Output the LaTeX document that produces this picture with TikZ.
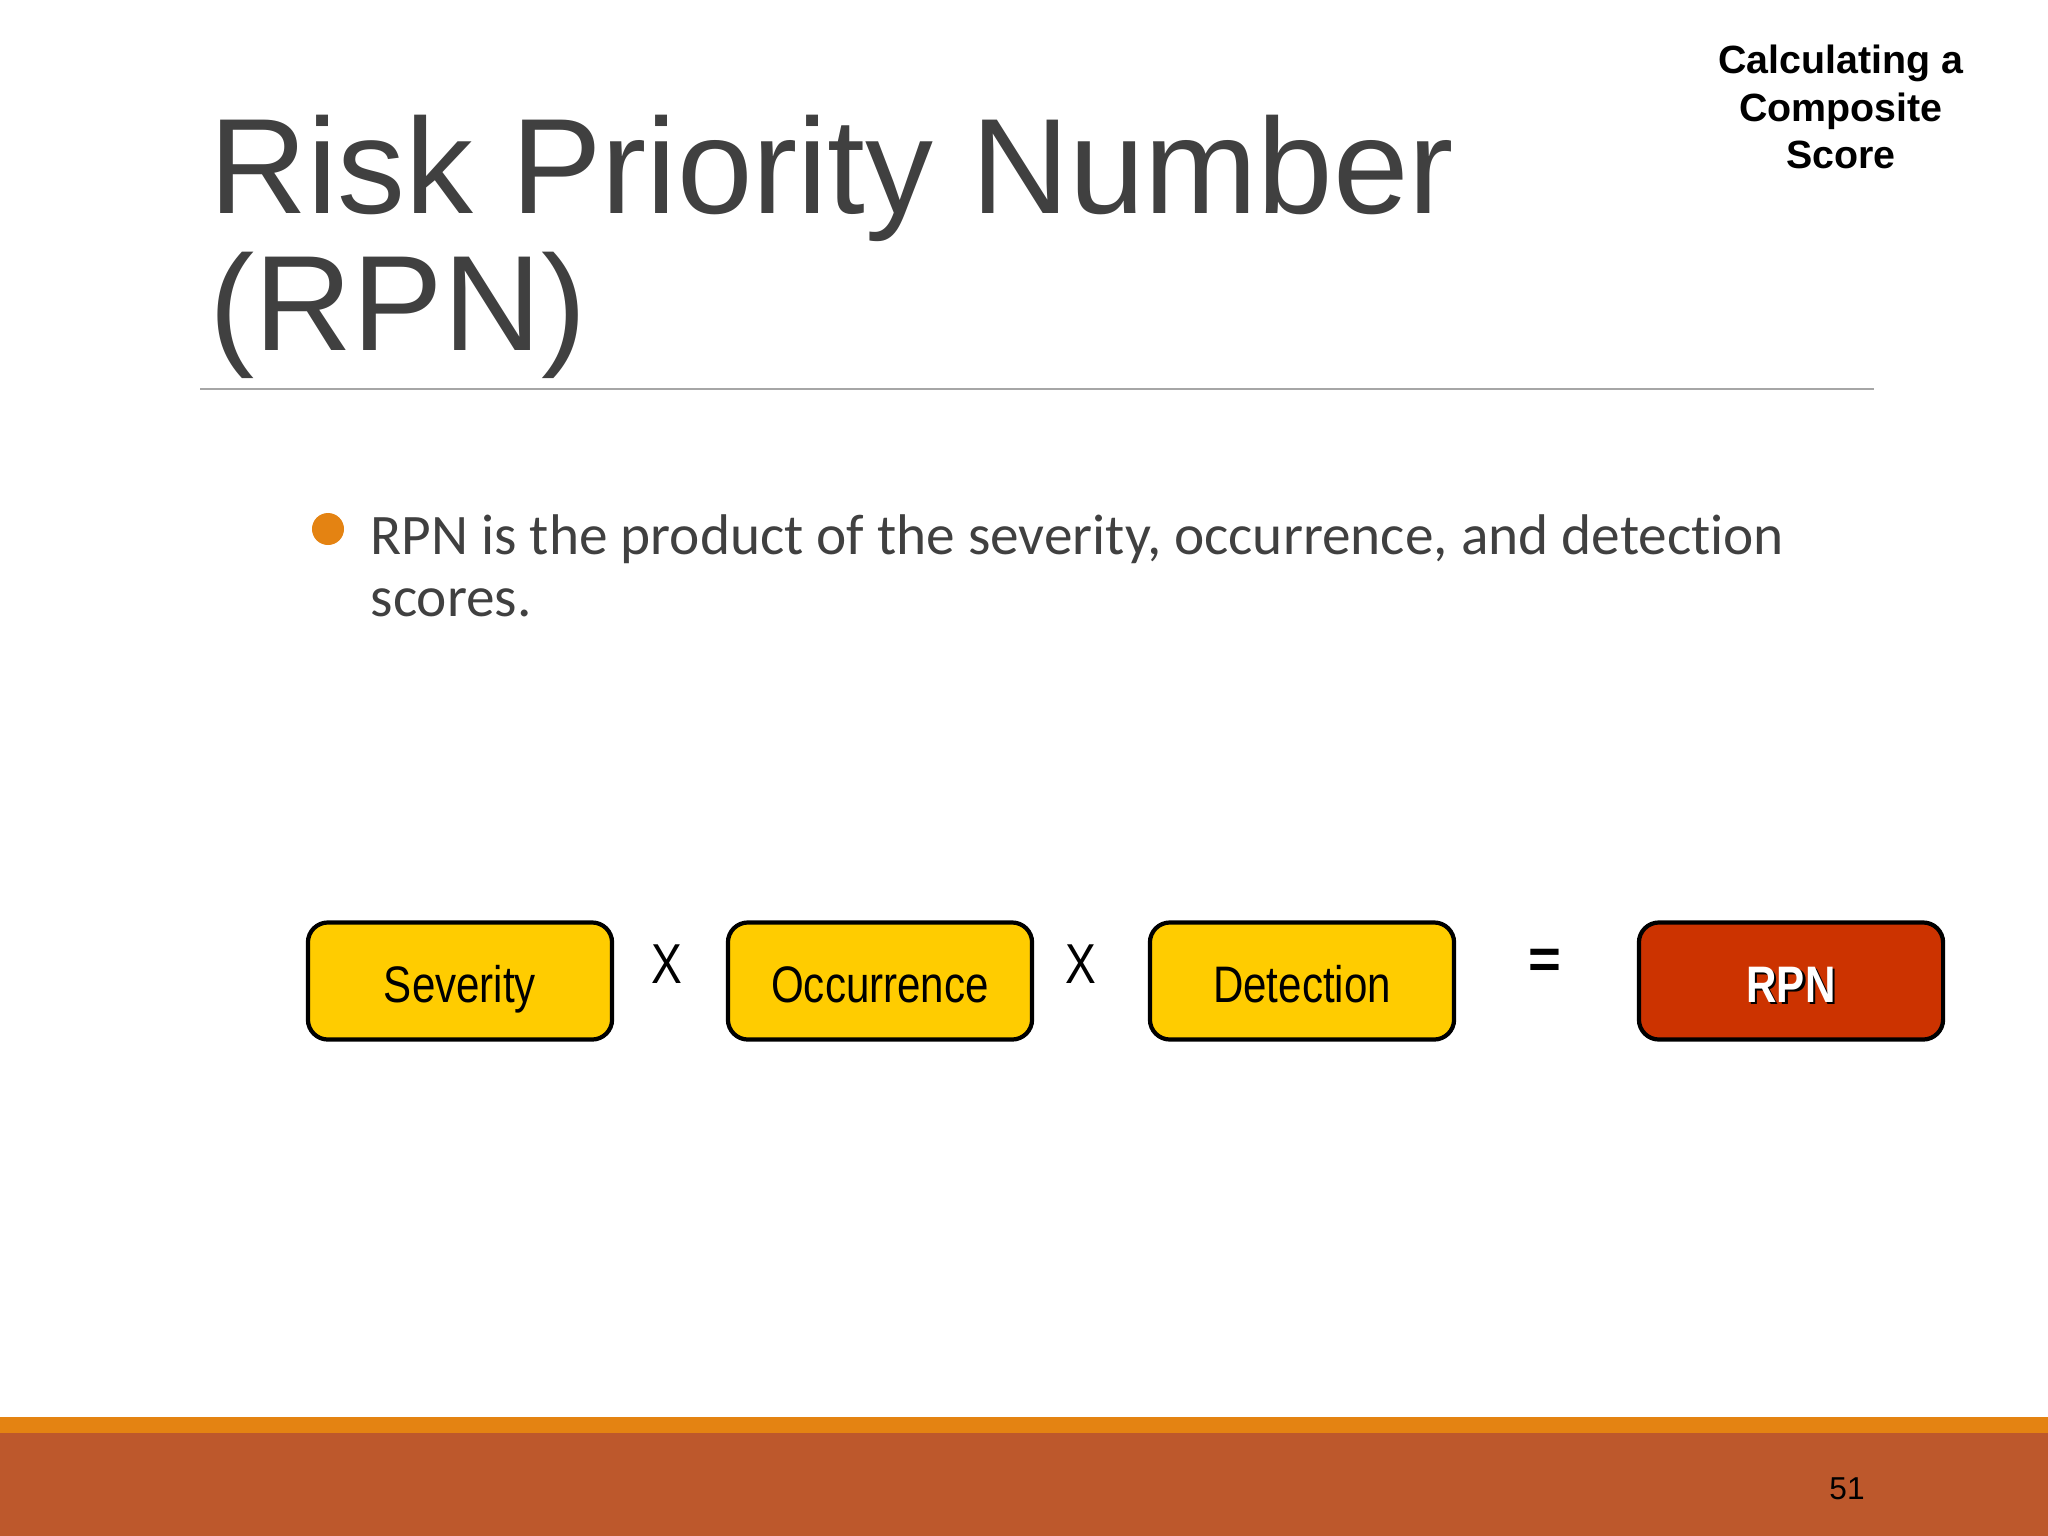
\documentclass[tikz,border=0pt]{standalone}
\usepackage{fontspec}
\usepackage{tikz}
\setmainfont{Liberation Sans}
\newfontfamily\bodyfont[Ligatures=NoCommon]{Carlito}
\newfontfamily\narrowfont[FakeStretch=0.82]{Liberation Sans}
\definecolor{titlegray}{HTML}{404040}
\definecolor{rulegray}{HTML}{A6A6A6}
\definecolor{boxyellow}{HTML}{FFCC00}
\definecolor{boxred}{HTML}{CC3300}
\definecolor{accent}{HTML}{E48312}
\definecolor{footer}{HTML}{BD582C}

\begin{document}
\begin{tikzpicture}[x=0.01cm,y=-0.01cm,
  scorebox/.style={draw=black, line width=1.2pt, rounded corners=0.2cm,
    minimum width=3.04cm, minimum height=1.17cm, inner sep=0,
    text height=12pt, text depth=0pt,
    font=\narrowfont\fontsize{14.6}{17}\selectfont},
  oper/.style={inner sep=0, font=\narrowfont\fontsize{16}{18}\selectfont}]
\useasboundingbox (0,0) rectangle (2048,1536);
%% footer
\fill[footer] (0,1433) rectangle (2048,1536);
\fill[accent] (0,1417) rectangle (2048,1433);
\node (page) at (1847,1489) {\fontsize{9}{11}\selectfont 51};
%% title
\node (title1) [anchor=base west, inner sep=0, text=titlegray, font=\fontsize{38.6}{47}\selectfont] at (209,213) {Risk Priority Number};
\node (title2) [anchor=base west, inner sep=0, text=titlegray, font=\fontsize{38.6}{47}\selectfont] at (209,350) {(RPN)};
\draw[rulegray, line width=0.6pt] (200,389) -- (1874,389);
\node (corner) [align=center, inner sep=0, font=\bfseries\fontsize{11.2}{13.4}\selectfont] at (1841,107) {Calculating a\\Composite\\Score};
%% bullet
\node (dot) [circle, fill=accent, minimum size=0.32cm, inner sep=0] at (328,529) {};
\node (bullet) [anchor=base west, inner sep=0, text=titlegray, align=left, font=\bodyfont\fontsize{16.3}{17.4}\selectfont] at (370,616) {RPN is the product of the severity, occurrence, and detection\\scores.};
%% boxes
\node (sev) [scorebox, fill=boxyellow] at (460,981) {Severity};
\node (occ) [scorebox, fill=boxyellow] at (880,981) {Occurrence};
\node (det) [scorebox, fill=boxyellow] at (1302,981) {Detection};
\node (rpn) [scorebox, fill=boxred] at (1791,981) {};
\node (rpnshadow) [scorebox, draw=none, minimum width=0, minimum height=0, font=\narrowfont\bfseries\fontsize{14.6}{17}\selectfont] at ([xshift=0.6pt,yshift=-0.6pt]rpn.center) {RPN};
\node (rpntext) [scorebox, draw=none, minimum width=0, minimum height=0, text=white, font=\narrowfont\bfseries\fontsize{14.6}{17}\selectfont] at (rpn.center) {RPN};
\node (times1) [oper] at (667,964) {X};
\node (times2) [oper] at (1081,964) {X};
\node (equals) [oper, font=\bfseries\fontsize{16}{18}\selectfont] at (1545,964) {=};
\end{tikzpicture}
\end{document}
